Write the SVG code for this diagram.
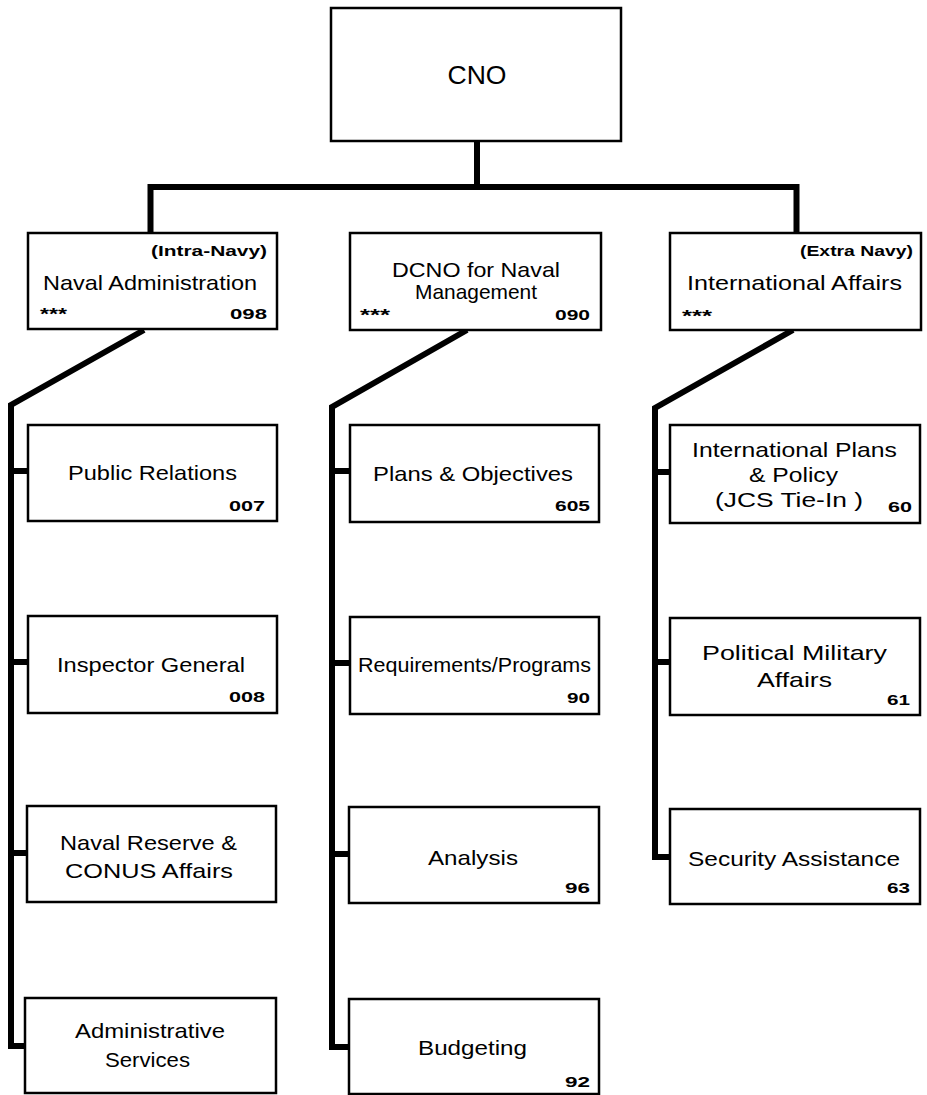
<svg xmlns="http://www.w3.org/2000/svg" width="927" height="1095" viewBox="0 0 927 1095">
<style>
.box{fill:#fff;stroke:#000;stroke-width:2.5}
.cn{fill:none;stroke:#000;stroke-width:6;stroke-linejoin:miter}
text{font-family:"Liberation Sans",Arial,sans-serif;fill:#000}
.lb{font-size:21px;text-anchor:start}
.num{font-size:15px;font-weight:bold}
.sm{font-size:14px;font-weight:bold}
.ast{font-size:16px;font-weight:bold}
</style>
<rect width="927" height="1095" fill="#fff"/>
<g id="connectors">
<path class="cn" d="M477 141 V187"/>
<path class="cn" d="M150.5 233 V187 H796.5 V233" stroke-width="7"/>
<path class="cn" d="M144 330 L11 405 V1046 H28"/>
<path class="cn" d="M11 471 H28 M11 662 H28 M11 853 H28"/>
<path class="cn" d="M467 330 L332 407 V1047 H350"/>
<path class="cn" d="M332 471 H350 M332 663 H350 M332 854 H350"/>
<path class="cn" d="M793 330 L655 408 V857 H670"/>
<path class="cn" d="M655 472 H670 M655 662 H670"/>
</g>
<g id="cno">
<rect class="box" x="331" y="8" width="290" height="133" stroke-width="3"/>
<text x="477" y="84" font-size="26" text-anchor="middle" textLength="59" lengthAdjust="spacingAndGlyphs">CNO</text>
</g>
<g id="naval-admin">
<rect class="box" x="28" y="233" width="249" height="96"/>
<text class="sm" x="151" y="256" textLength="116" lengthAdjust="spacingAndGlyphs">(Intra-Navy)</text>
<text class="lb" x="43" y="290" textLength="214" lengthAdjust="spacingAndGlyphs">Naval Administration</text>
<text class="ast" x="40" y="320" textLength="27" lengthAdjust="spacingAndGlyphs">***</text>
<text class="num" x="230" y="319" textLength="37" lengthAdjust="spacingAndGlyphs">098</text>
</g>
<g id="dcno">
<rect class="box" x="350" y="233" width="251" height="97"/>
<text class="lb" x="392" y="277" textLength="168" lengthAdjust="spacingAndGlyphs">DCNO for Naval</text>
<text class="lb" x="415" y="299" font-size="22" textLength="122" lengthAdjust="spacingAndGlyphs">Management</text>
<text class="ast" x="360" y="321" textLength="30" lengthAdjust="spacingAndGlyphs">***</text>
<text class="num" x="555" y="320" textLength="35" lengthAdjust="spacingAndGlyphs">090</text>
</g>
<g id="intl-affairs">
<rect class="box" x="670" y="233" width="251" height="97"/>
<text class="sm" x="800" y="256" textLength="113" lengthAdjust="spacingAndGlyphs">(Extra Navy)</text>
<text class="lb" x="687" y="290" textLength="215" lengthAdjust="spacingAndGlyphs">International Affairs</text>
<text class="ast" x="682" y="322" textLength="30" lengthAdjust="spacingAndGlyphs">***</text>
</g>
<g id="public-relations">
<rect class="box" x="28" y="425" width="249" height="96"/>
<text class="lb" x="68" y="480" textLength="169" lengthAdjust="spacingAndGlyphs">Public Relations</text>
<text class="num" x="229" y="511" textLength="36" lengthAdjust="spacingAndGlyphs">007</text>
</g>
<g id="inspector-general">
<rect class="box" x="28" y="616" width="249" height="97"/>
<text class="lb" x="57" y="672" textLength="188" lengthAdjust="spacingAndGlyphs">Inspector General</text>
<text class="num" x="229" y="702" textLength="36" lengthAdjust="spacingAndGlyphs">008</text>
</g>
<g id="naval-reserve">
<rect class="box" x="27" y="806" width="249" height="96"/>
<text class="lb" x="60" y="850" textLength="177" lengthAdjust="spacingAndGlyphs">Naval Reserve &amp;</text>
<text class="lb" x="65" y="878" textLength="168" lengthAdjust="spacingAndGlyphs">CONUS Affairs</text>
</g>
<g id="admin-services">
<rect class="box" x="25" y="998" width="251" height="95"/>
<text class="lb" x="75" y="1038" textLength="150" lengthAdjust="spacingAndGlyphs">Administrative</text>
<text class="lb" x="105" y="1067" textLength="85" lengthAdjust="spacingAndGlyphs">Services</text>
</g>
<g id="plans-objectives">
<rect class="box" x="350" y="425" width="249" height="97"/>
<text class="lb" x="373" y="481" textLength="200" lengthAdjust="spacingAndGlyphs">Plans &amp; Objectives</text>
<text class="num" x="555" y="511" textLength="35" lengthAdjust="spacingAndGlyphs">605</text>
</g>
<g id="requirements-programs">
<rect class="box" x="350" y="617" width="249" height="97"/>
<text class="lb" x="358" y="672" textLength="233" lengthAdjust="spacingAndGlyphs">Requirements/Programs</text>
<text class="num" x="567" y="703" textLength="23" lengthAdjust="spacingAndGlyphs">90</text>
</g>
<g id="analysis">
<rect class="box" x="349" y="807" width="250" height="96"/>
<text class="lb" x="428" y="865" textLength="90" lengthAdjust="spacingAndGlyphs">Analysis</text>
<text class="num" x="565" y="893" textLength="25" lengthAdjust="spacingAndGlyphs">96</text>
</g>
<g id="budgeting">
<rect class="box" x="349" y="999" width="250" height="95"/>
<text class="lb" x="418" y="1055" textLength="109" lengthAdjust="spacingAndGlyphs">Budgeting</text>
<text class="num" x="565" y="1087" textLength="25" lengthAdjust="spacingAndGlyphs">92</text>
</g>
<g id="intl-plans-policy">
<rect class="box" x="670" y="425" width="250" height="98"/>
<text class="lb" x="692" y="457" textLength="205" lengthAdjust="spacingAndGlyphs">International Plans</text>
<text class="lb" x="749" y="482" textLength="89" lengthAdjust="spacingAndGlyphs">&amp; Policy</text>
<text class="lb" x="715" y="507" textLength="148" lengthAdjust="spacingAndGlyphs">(JCS Tie-In )</text>
<text class="num" x="888" y="512" textLength="24" lengthAdjust="spacingAndGlyphs">60</text>
</g>
<g id="political-military">
<rect class="box" x="670" y="618" width="250" height="97"/>
<text class="lb" x="702" y="660" textLength="185" lengthAdjust="spacingAndGlyphs">Political Military</text>
<text class="lb" x="757" y="687" textLength="75" lengthAdjust="spacingAndGlyphs">Affairs</text>
<text class="num" x="887" y="705" textLength="23" lengthAdjust="spacingAndGlyphs">61</text>
</g>
<g id="security-assistance">
<rect class="box" x="670" y="809" width="250" height="95"/>
<text class="lb" x="688" y="866" textLength="212" lengthAdjust="spacingAndGlyphs">Security Assistance</text>
<text class="num" x="887" y="893" textLength="23" lengthAdjust="spacingAndGlyphs">63</text>
</g>
</svg>
